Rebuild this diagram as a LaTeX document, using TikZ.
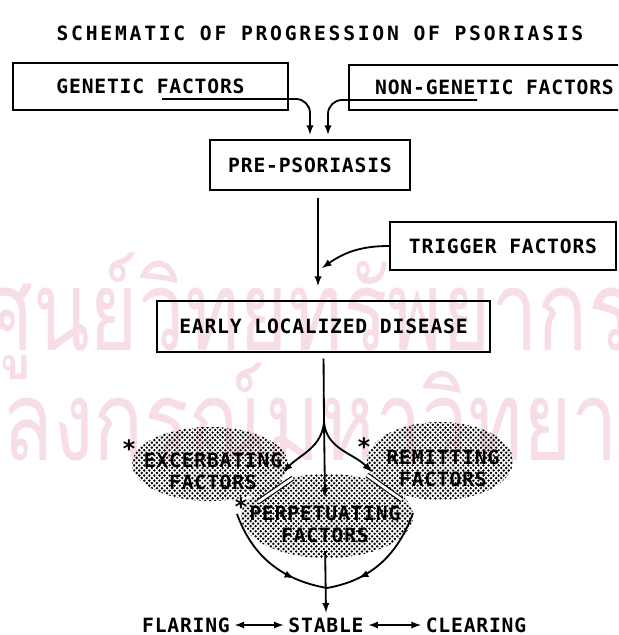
\documentclass[tikz,border=0pt]{standalone}
\usepackage{fontspec}
\usetikzlibrary{patterns,decorations.markings}
\newfontfamily\lettering[LetterSpace=4]{DejaVu Sans Mono}
\newfontfamily\titlelettering[LetterSpace=14]{DejaVu Sans Mono}
\newfontfamily\thaifont[Script=Thai]{Loma}
\definecolor{stamp}{RGB}{247,222,230}
\pgfdeclarepatternformonly{stipple}{\pgfqpoint{-1.2pt}{-1.2pt}}{\pgfqpoint{3pt}{3pt}}{\pgfqpoint{3.6pt}{3.6pt}}{%
  \pgfpathcircle{\pgfqpoint{0pt}{0pt}}{0.95pt}%
  \pgfpathcircle{\pgfqpoint{1.8pt}{1.8pt}}{0.95pt}%
  \pgfusepath{fill}}
\begin{document}
\begin{tikzpicture}[x=0.025cm,y=-0.025cm,
    font=\lettering\bfseries\fontsize{14}{15.6}\selectfont,
    box/.style={draw,line width=1.5pt,inner sep=0pt},
    factor/.style={align=center,inner sep=0pt},
    asterisk/.style={inner sep=0pt,font=\lettering\bfseries\fontsize{17}{17}\selectfont},
    watermark/.style={anchor=base west,inner sep=0pt,text=stamp,font=\thaifont\fontsize{72}{72}\selectfont},
    conn/.style={-latex,line width=1.3pt},
    link/.style={line width=1.3pt},
    twin/.style={double,double distance=2pt,line width=0.8pt},
    midarrow/.style={line width=1.3pt,postaction={decorate},
      decoration={markings,mark=at position 0.72 with {\arrow{latex}}}},
    blob/.style={pattern=stipple}
]
\useasboundingbox (0,0) rectangle (618,635);
\clip (0,0) rectangle (618,635);

\node[watermark] (stampa) at (-20,350) {\scalebox{0.82}[1.1]{ศูนย์วิทยทรัพยากร}};
\node[watermark] (stampb) at (-150,460) {\scalebox{0.82}[1.1]{จุฬาลงกรณ์มหาวิทยาลัย}};

\node[font=\titlelettering\bfseries\fontsize{14}{16}\selectfont] (title) at (320,33) {SCHEMATIC OF PROGRESSION OF PSORIASIS};

\node[box,minimum width=6.875cm,minimum height=1.175cm] (genetic)    at (150.5,86.5) {GENETIC FACTORS};
\node[box,minimum width=7.275cm,minimum height=1.125cm] (nongenetic) at (494.5,87.5) {NON-GENETIC FACTORS};
\node[box,minimum width=5cm,minimum height=1.25cm]      (pre)        at (310,165)    {PRE-PSORIASIS};
\node[box,minimum width=5.65cm,minimum height=1.2cm]    (trigger)    at (503,246)    {TRIGGER FACTORS};
\node[box,minimum width=8.325cm,minimum height=1.275cm] (early)      at (323.5,326.5) {EARLY LOCALIZED DISEASE};

\fill[blob] (327,516) ellipse [x radius=2.15cm,y radius=1.05cm];
\fill[blob] (210,464) ellipse [x radius=1.95cm,y radius=0.925cm];
\fill[blob] (440,461) ellipse [x radius=1.825cm,y radius=0.975cm];

\node[factor]   (excerbating)  at (213,471)   {EXCERBATING\\FACTORS};
\node[factor]   (remitting)    at (443,468.5) {REMITTING\\FACTORS};
\node[factor]   (perpetuating) at (325,524)   {PERPETUATING\\FACTORS};
\node[asterisk] (exstar) at (129,449) {*};
\node[asterisk] (rmstar) at (364,447) {*};
\node[asterisk] (ppstar) at (241,507) {*};

\node (flaring)  at (186,625) {FLARING};
\node (stable)   at (326,625) {STABLE};
\node (clearing) at (476,625) {CLEARING};

\coordinate (genline)  at (162,99);
\coordinate (ngenline) at (477,100);
\coordinate (trigjoin) at (322,268);
\coordinate (branch)   at (324,422);
\coordinate (exin)     at (283,472);
\coordinate (rmin)     at (372,472);
\coordinate (ppin)     at (325,497);
\coordinate (exlinka)  at (293,478);
\coordinate (exlinkb)  at (258,502);
\coordinate (rmlinka)  at (367,475);
\coordinate (rmlinkb)  at (402,500);
\coordinate (bowlleft) at (237,514);
\coordinate (bowlright) at (413,513);
\coordinate (bowl)     at (327,588);

\draw[conn,rounded corners=10pt] (genline) -| ([yshift=3pt]pre.north);
\draw[conn,rounded corners=10pt] (ngenline) -| ([xshift=0.45cm,yshift=3pt]pre.north);
\draw[conn,shorten <=5pt,shorten >=10pt] ([xshift=0.2cm]pre.south) -- ([xshift=0.2cm]pre.south |- early.north);
\draw[conn] (trigger.west) to[out=180,in=35] (trigjoin);
\draw[link,shorten <=4pt] (early.south) -- (branch);
\draw[conn] (branch) to[out=-95,in=45] (exin);
\draw[conn] (branch) to[out=-85,in=135] (rmin);
\draw[conn] (branch) -- (ppin);
\draw[twin] (exlinka) -- (exlinkb);
\draw[twin] (rmlinka) -- (rmlinkb);
\draw[midarrow] (bowlleft) to[out=-70,in=170] (bowl);
\draw[midarrow] (bowlright) to[out=-110,in=10] (bowl);
\draw[conn,shorten <=6pt] (perpetuating.south) -- (stable.north);
\draw[latex-latex,line width=1.3pt] (flaring) -- (stable);
\draw[latex-latex,line width=1.3pt] (stable) -- (clearing);
\end{tikzpicture}
\end{document}
